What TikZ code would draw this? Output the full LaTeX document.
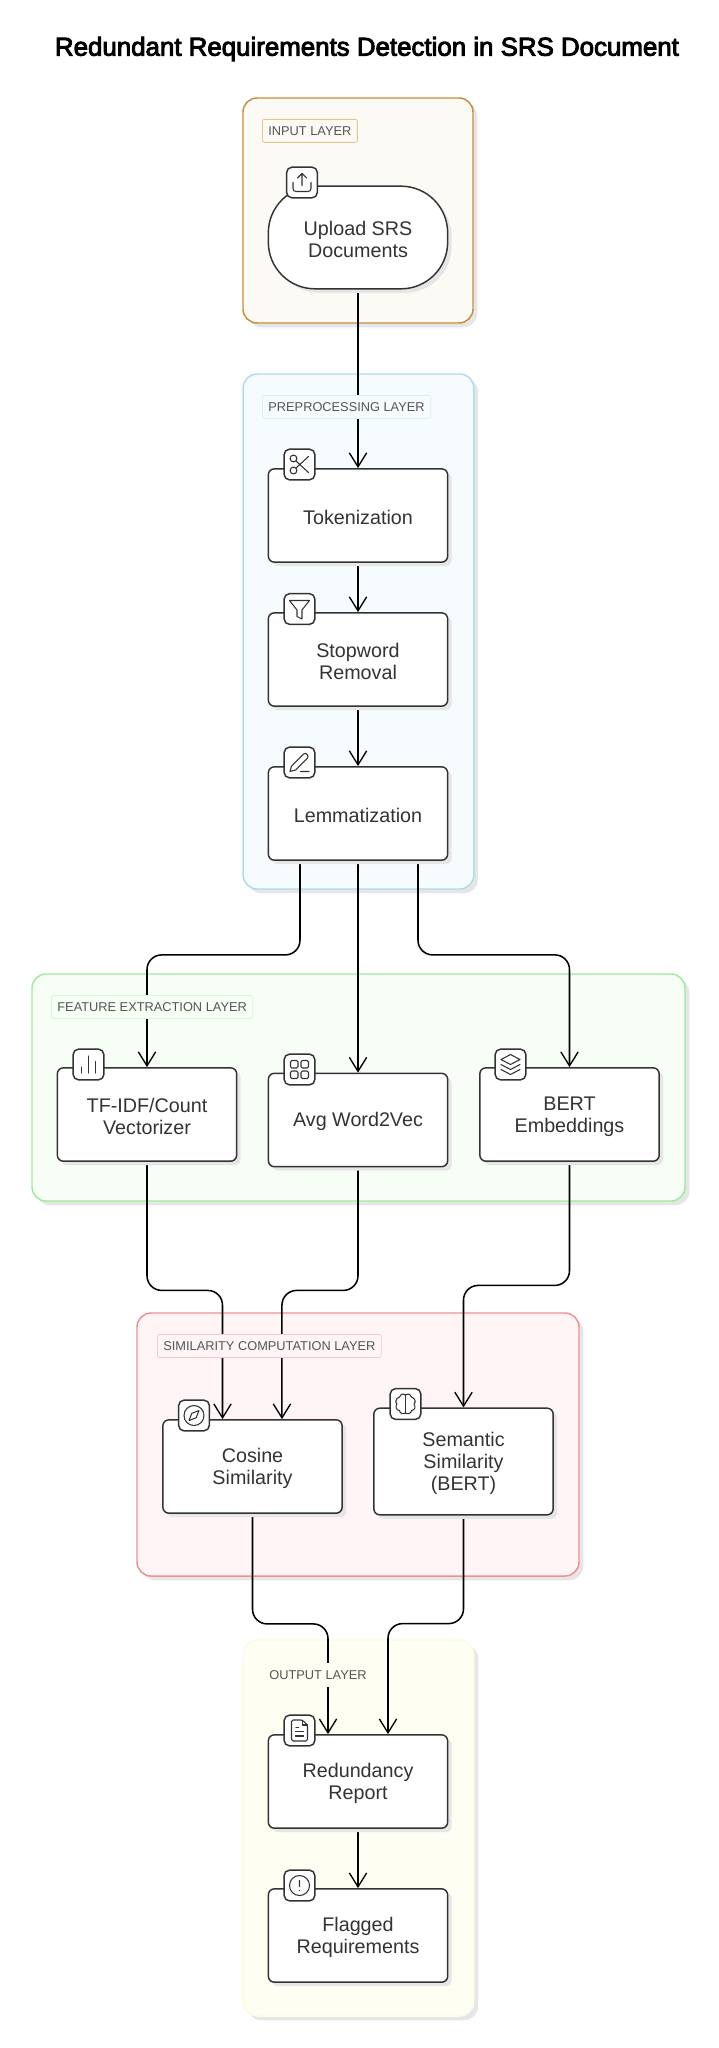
\documentclass[tikz,border=0pt]{standalone}
\usepackage{xcolor}
\usepackage{fontspec}
\setmainfont{Liberation Sans}
\newfontfamily\titlefont[FakeBold=3.5]{Liberation Sans}
\usepackage{tikz}
\usetikzlibrary{arrows.meta,shadows}

\definecolor{inkgray}{HTML}{333333}
\definecolor{captiongray}{HTML}{555555}
\definecolor{shadowgray}{HTML}{E6E6E6}
\definecolor{inputline}{HTML}{C98C3A}
\definecolor{inputfill}{HTML}{FBFAF5}
\definecolor{inputedge}{HTML}{E8C48F}
\definecolor{prepline}{HTML}{ACDCEC}
\definecolor{prepfill}{HTML}{F6FBFE}
\definecolor{prepedge}{HTML}{DCEFF6}
\definecolor{featline}{HTML}{9BEC9B}
\definecolor{featfill}{HTML}{F6FEF6}
\definecolor{featedge}{HTML}{D8F8D8}
\definecolor{simline}{HTML}{F09090}
\definecolor{simfill}{HTML}{FFF5F6}
\definecolor{simedge}{HTML}{FBC6C8}
\definecolor{outline}{HTML}{FBFBE6}
\definecolor{outfill}{HTML}{FEFEF3}

\pgfdeclarelayer{bg}
\pgfdeclarelayer{edges}
\pgfsetlayers{bg,edges,main}

\newcommand{\topgap}{\rule{0pt}{13.2pt}}

\tikzset{
    layerbox/.style={rounded corners=10.5pt,line width=1.1pt,inner sep=0pt,
        drop shadow={shadow xshift=3.2pt,shadow yshift=-3.2pt,fill=shadowgray,opacity=1}},
    caption/.style={anchor=north west,rounded corners=1.5pt,line width=0.6pt,inner xsep=4.5pt,inner ysep=0pt,
        minimum height=17.25pt,text=captiongray,font=\fontsize{9.6}{11}\selectfont},
    stepbox/.style={draw=inkgray,fill=white,rounded corners=4.5pt,line width=1.1pt,align=center,
        minimum width=134.5pt,minimum height=70pt,inner sep=0pt,text=inkgray,font=\fontsize{14.8}{16.3}\selectfont,
        drop shadow={shadow xshift=3pt,shadow yshift=-3pt,fill=shadowgray,opacity=1}},
    iconbox/.style={draw=inkgray,fill=white,rounded corners=4pt,line width=1.1pt,minimum size=23pt,inner sep=0pt},
    glyph/.style={draw=inkgray,line width=0.8pt,line cap=round,line join=round},
    flow/.style={draw=black,line width=1.15pt,rounded corners=11pt,shorten <=1.5pt,
        -{Straight Barb[length=10.5pt,width=13pt,line width=1pt]}},
}

\begin{document}
\begin{tikzpicture}[x=0.75pt,y=0.75pt,yscale=-1,xscale=1]
    \useasboundingbox (0,0) rectangle (718,2048);

    % layers
    \begin{pgfonlayer}{bg}
        \node [layerbox,draw=inputline,fill=inputfill,minimum width=172.5pt,minimum height=168.75pt] (inputlayer) at (358,210.5) {};
        \node [layerbox,draw=prepline,fill=prepfill,minimum width=173pt,minimum height=386.25pt] (preplayer) at (358.5,631.5) {};
        \node [layerbox,draw=featline,fill=featfill,minimum width=489.75pt,minimum height=170.25pt] (featlayer) at (358.5,1087.5) {};
        \node [layerbox,draw=simline,fill=simfill,minimum width=331.5pt,minimum height=197.25pt] (simlayer) at (358,1444.5) {};
        \node [layerbox,draw=outline,fill=outfill,minimum width=173pt,minimum height=282pt] (outlayer) at (358.5,1828) {};
    \end{pgfonlayer}

    \node [font=\titlefont\fontsize{19.4}{23}\selectfont,text=black,inner sep=0pt] (title) at (367,49) {Redundant Requirements Detection in SRS Document};

    % captions
    \node [caption,draw=inputedge,fill=inputfill] (inputcap) at (262,119) {INPUT LAYER};
    \node [caption,draw=prepedge,fill=prepfill] (prepcap) at (262,395) {PREPROCESSING LAYER};
    \node [caption,draw=featedge,fill=featfill] (featcap) at (51,995) {FEATURE EXTRACTION LAYER};
    \node [caption,draw=simedge,fill=simfill] (simcap) at (157,1334) {SIMILARITY COMPUTATION LAYER};
    \node [caption,draw=outfill,fill=outfill] (outcap) at (263,1663) {OUTPUT LAYER};

    % steps
    \node [stepbox,rounded corners=35pt,minimum height=77pt] (upload) at (358,237.5) {\topgap Upload SRS\\Documents};
    \node [stepbox] (token) at (358,515.5) {\topgap Tokenization};
    \node [stepbox] (stopword) at (358,659.5) {\topgap Stopword\\Removal};
    \node [stepbox] (lemma) at (358,813.5) {\topgap Lemmatization};
    \node [stepbox] (tfidf) at (147,1114.5) {\topgap TF-IDF/Count\\Vectorizer};
    \node [stepbox] (word2vec) at (358,1120) {\topgap Avg Word2Vec};
    \node [stepbox] (bert) at (569.5,1114.5) {\topgap BERT\\Embeddings};
    \node [stepbox] (cosine) at (252.5,1466.5) {\topgap Cosine\\Similarity};
    \node [stepbox,minimum height=80pt] (semantic) at (463.5,1461.5) {\topgap Semantic\\Similarity\\(BERT)};
    \node [stepbox] (report) at (358,1781.5) {\topgap Redundancy\\Report};
    \node [stepbox] (flagged) at (358,1935.5) {\topgap Flagged\\Requirements};

    % icon boxes
    \node [iconbox] (icupload) at (302,182.5) {};
    \node [iconbox] (ictoken) at (299.5,464.5) {};
    \node [iconbox] (icstop) at (299.5,609) {};
    \node [iconbox] (iclemma) at (299.5,762.5) {};
    \node [iconbox] (ictfidf) at (88.5,1064.5) {};
    \node [iconbox] (icword) at (299.5,1069.5) {};
    \node [iconbox] (icbert) at (510.5,1064.5) {};
    \node [iconbox] (iccosine) at (194,1415.5) {};
    \node [iconbox] (icsemantic) at (405.5,1404) {};
    \node [iconbox] (icreport) at (299.5,1730.5) {};
    \node [iconbox] (icflagged) at (299.5,1885.5) {};

    % glyphs
    \draw [glyph,shift={(icupload.center)}] (0,3) -- (0,-9) (-4.5,-4.5) -- (0,-9) -- (4.5,-4.5) (-9,0) -- (-9,6) .. controls (-9,8) and (-8,9) .. (-6,9) -- (6,9) .. controls (8,9) and (9,8) .. (9,6) -- (9,0);
    \draw [glyph,shift={(ictoken.center)}] (-6,-6) circle (3.4) (-6,6) circle (3.4) (9,-8) -- (-3.5,3.5) (9,8) -- (-3.5,-3.5);
    \draw [glyph,shift={(icstop.center)}] (-10,-8.5) -- (10,-8.5) -- (2.5,1) -- (2.5,10) -- (-2.5,7.5) -- (-2.5,1) -- cycle;
    \draw [glyph,shift={(iclemma.center)}] (-9.5,9) -- (-8,3.5) -- (4,-8.5) .. controls (6,-10.5) and (10,-7) .. (8,-4.5) -- (-4,7.5) -- cycle (1,9) -- (9.5,9);
    \draw [glyph,shift={(ictfidf.center)}] (-7,2.5) -- (-7,8.5) (0,-8.5) -- (0,8.5) (7,-3) -- (7,8.5);
    \draw [glyph,rounded corners=1pt,shift={(icword.center)}] (-9,-9) rectangle (-1.5,-1.5) (1.5,-9) rectangle (9,-1.5) (-9,1.5) rectangle (-1.5,9) (1.5,1.5) rectangle (9,9);
    \draw [glyph,shift={(icbert.center)}] (0,-10) -- (9.5,-5) -- (0,0) -- (-9.5,-5) -- cycle (-9.5,0) -- (0,5) -- (9.5,0) (-9.5,5) -- (0,10) -- (9.5,5);
    \draw [glyph,shift={(iccosine.center)}] (0,0) circle (10) (5,-5) -- (2.2,2.2) -- (-5,5) -- (-2.2,-2.2) -- cycle;
    \draw [glyph,shift={(icsemantic.center)}] (0,-9) -- (0,9);
    \foreach \side in {1,-1} {
        \draw [glyph,shift={(icsemantic.center)},xscale=\side] (0,-9) .. controls (3,-11) and (6,-9.5) .. (6,-7) .. controls (10,-6) and (10.5,-1) .. (8.5,0) .. controls (10.5,2) and (9.5,6.5) .. (6,6.5) .. controls (6,9.5) and (2,10.5) .. (0,9);
    }
    \draw [glyph,rounded corners=1.2pt,shift={(icreport.center)}] (3,-10.5) -- (-8,-10.5) -- (-8,10.5) -- (8,10.5) -- (8,-5.5) -- cycle;
    \draw [glyph,shift={(icreport.center)}] (3,-10.5) -- (3,-5.5) -- (8,-5.5) (-3.5,-3) -- (-1,-3) (-4,1) -- (4,1) (-4,5.5) -- (4,5.5);
    \draw [glyph,shift={(icflagged.center)}] (0,0) circle (10) (0,-5) -- (0,1) (0,5) -- (0,5.1);

    % connectors
    \begin{pgfonlayer}{edges}
        \draw [flow] (upload) -- (token);
        \draw [flow] (token) -- (stopword);
        \draw [flow] (stopword) -- (lemma);
        \draw [flow] ([xshift=-43.5pt]lemma.south) -- ++(0,94) -| (tfidf.north);
        \draw [flow] (lemma) -- (word2vec);
        \draw [flow] ([xshift=45pt]lemma.south) -- ++(0,94) -| (bert.north);
        \draw [flow] (tfidf.south) -- ++(0,128.5) -| ([xshift=-22.5pt]cosine.north);
        \draw [flow] (word2vec.south) -- ++(0,123) -| ([xshift=22.1pt]cosine.north);
        \draw [flow] (bert.south) -- ++(0,123.5) -| (semantic.north);
        \draw [flow] (cosine.south) -- ++(0,110) -| ([xshift=-22.5pt]report.north);
        \draw [flow] (semantic.south) -- ++(0,108) -| ([xshift=22.5pt]report.north);
        \draw [flow] (report) -- (flagged);
    \end{pgfonlayer}
\end{tikzpicture}
\end{document}
